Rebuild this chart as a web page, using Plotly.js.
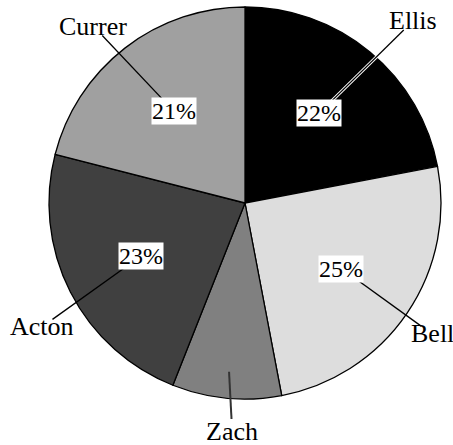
<!DOCTYPE html>
<html><head><meta charset="utf-8">
<script src="https://cdn.plot.ly/plotly-3.0.1.min.js"></script>
<style>html,body{margin:0;padding:0;background:#fff}</style>
</head><body><div id="chart" style="width:453px;height:445px"></div>
<script>
// ---- data ----
const names = ['Ellis', 'Bell', 'Zach', 'Acton', 'Currer'];
const values = [22, 25, 9, 23, 21];
const colors = ['#000000', '#dddddd', '#808080', '#404040', '#a0a0a0'];

// ---- layout constants ----
const W = 453, H = 445, CX = 245, CY = 203, R = 196;
const PCT_R = 0.595, HIDDEN_LINE_R = 0.865, MIN_PCT = 10;
// name label placement: [angle (deg, clockwise from top), radius factor]
const labelPolar = [[42.7, 1.264], [125, 1.165], [183.2, 1.17], [238.6, 1.214], [319.4, 1.189]];
const FONT = 'Liberation Serif';

const px = x => x / W, py = y => 1 - y / H;
function polar(deg, r) {
  const t = deg * Math.PI / 180;
  return [CX + r * Math.sin(t), CY - r * Math.cos(t)];
}

const total = values.reduce((a, b) => a + b, 0);
let cum = 0;
const annotations = [], shapes = [];
values.forEach((v, i) => {
  const mid = 360 * (cum + v / 2) / total;
  cum += v;
  const pct = Math.round(100 * v / total);
  const show = pct >= MIN_PCT;
  const inner = polar(mid, (show ? PCT_R : HIDDEN_LINE_R) * R);
  const lab = polar(labelPolar[i][0], labelPolar[i][1] * R);
  const dx = inner[0] - lab[0], dy = inner[1] - lab[1];
  const len = Math.hypot(dx, dy);
  const end = [lab[0] + dx / len * 13, lab[1] + dy / len * 13];
  const seg = {type: 'line', xref: 'paper', yref: 'paper', layer: 'above',
    x0: px(inner[0]), y0: py(inner[1]), x1: px(end[0]), y1: py(end[1])};
  if (colors[i] === '#000000') {
    shapes.push(Object.assign({}, seg, {line: {color: '#ffffff', width: 3.2}}));
  }
  shapes.push(Object.assign({}, seg, {line: {color: show ? '#000000' : '#333333', width: show ? 1.3 : 2}}));
  if (show) {
    annotations.push({xref: 'paper', yref: 'paper', x: px(inner[0]), y: py(inner[1]),
      text: pct + '%', showarrow: false, bgcolor: '#ffffff', borderpad: 0,
      font: {family: FONT, size: 24, color: '#000'}, xanchor: 'center', yanchor: 'middle'});
  }
  annotations.push({xref: 'paper', yref: 'paper', x: px(lab[0]), y: py(lab[1]),
    text: names[i], showarrow: false,
    font: {family: FONT, size: 26, color: '#000'}, xanchor: 'center', yanchor: 'middle'});
});

const data = [{
  type: 'pie', labels: names, values: values, sort: false, direction: 'clockwise', rotation: 0,
  marker: {colors: colors, line: {color: '#000000', width: 1.3}},
  textinfo: 'none', hoverinfo: 'none',
  domain: {x: [px(CX - R), px(CX + R)], y: [py(CY + R), py(CY - R)]}
}];
const layout = {
  width: W, height: H, margin: {l: 0, r: 0, t: 0, b: 0},
  paper_bgcolor: '#fff', showlegend: false,
  annotations: annotations, shapes: shapes
};
Plotly.newPlot('chart', data, layout, {displayModeBar: false, staticPlot: true});
</script></body></html>
